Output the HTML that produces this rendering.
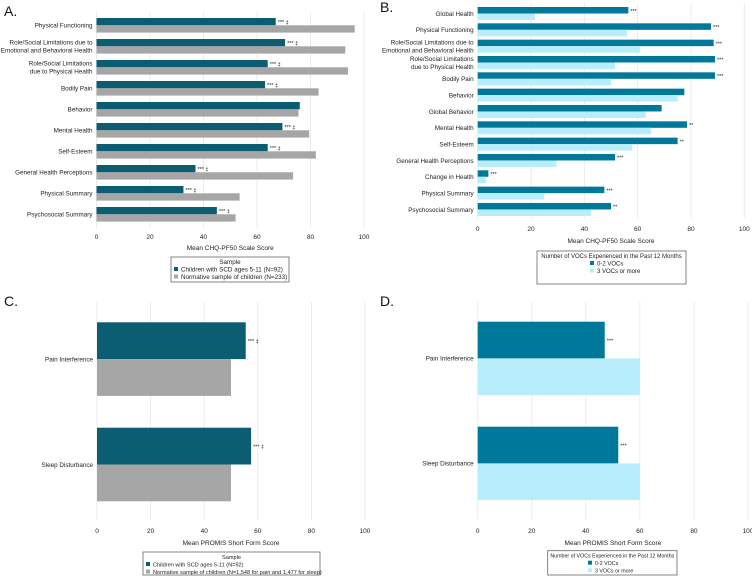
<!DOCTYPE html>
<html><head><meta charset="utf-8"><style>
html,body{margin:0;padding:0;background:#fff;}
svg{display:block;font-family:"Liberation Sans",sans-serif;}
</style></head><body>
<svg id="chart" width="752" height="578" viewBox="0 0 752 578" xmlns="http://www.w3.org/2000/svg"></svg>
<script>
// Panel A data
const catsA = ["Physical Functioning","Role/Social Limitations due to|Emotional and Behavioral Health","Role/Social Limitations|due to Physical Health","Bodily Pain","Behavior","Mental Health","Self-Esteem","General Health Perceptions","Physical Summary","Psychosocial Summary"];
const scdA = [67,70.5,64,63,76,69.5,64,37,32.5,45];
const normA = [96.5,93,94,83,75.5,79.5,82,73.5,53.5,52];
const annA = ["*** ‡","*** ‡","*** ‡","*** ‡","","*** ‡","*** ‡","*** ‡","*** ‡","*** ‡"];
// Panel B data
const catsB = ["Global Health","Physical Functioning","Role/Social Limitations due to|Emotional and Behavioral Health","Role/Social Limitations|due to Physical Health","Bodily Pain","Behavior","Global Behavior","Mental Health","Self-Esteem","General Health Perceptions","Change in Health","Physical Summary","Psychosocial Summary"];
const lowB = [56.5,87.5,88.5,89,89,77.5,69,78.5,75,51.5,4,47.5,50];
const highB = [21.5,56,61,51.5,50,75,63,65,58,29.5,3,25,42.5];
const annB = ["***","***","***","***","***","","","**","**","***","***","***","**"];
// Panel C data
const catsC = ["Pain Interference","Sleep Disturbance"];
const scdC = [55.5,57.5];
const normC = [50,50];
const annC = ["*** ‡","*** ‡"];
// Panel D data
const catsD = ["Pain Interference","Sleep Disturbance"];
const lowD = [47,52];
const highD = [60,60];
const annD = ["***","***"];
const ticks = [0,20,40,60,80,100];

const svg = document.getElementById('chart');
const NS = "http://www.w3.org/2000/svg";
function el(tag, attrs, parent){
  const e = document.createElementNS(NS, tag);
  for (const k in attrs) e.setAttribute(k, attrs[k]);
  (parent||svg).appendChild(e);
  return e;
}
function txt(x,y,s,size,anchor,parent,fill){
  const t = el('text',{x:x,y:y,'font-size':size,'text-anchor':anchor||'start',fill:fill||'#222'},parent);
  t.textContent = s;
  return t;
}

function panel(p){
  const g = el('g',{});
  
  
  const xs = v => p.x0 + (p.x1 - p.x0) * v / 100;
  ticks.forEach(t => {
    const gl = el('line',{x1:xs(t),x2:xs(t),y1:p.gTop,y2:p.gBot,stroke:'#e6e6e6','stroke-width':0.8},g);
    
    
    const tl = txt(xs(t), p.tickY, String(t), 6.5, 'middle', g);
    
    
  });
  const at = txt((p.x0+p.x1)/2, p.titleY, p.title, 6.5, 'middle', g);
  
  
  const lt = txt(p.lx, p.ly, p.letter, 14, 'start', g, '#111');
  
  
  p.cats.forEach((c,i) => {
    const top = p.top + i*p.pitch;
    const b1 = el('rect',{x:p.x0,y:top,width:xs(p.s1[i])-p.x0,height:p.bh,fill:p.c1},g);
    
    
    const b2 = el('rect',{x:p.x0,y:top+p.bh,width:xs(p.s2[i])-p.x0,height:p.bh,fill:p.c2},g);
    
    
    if (p.ann[i]) {
      const a = txt(xs(p.s1[i])+2, top+p.bh/2+2.5, p.ann[i], 5.5, 'start', g);
      
      
    }
    const lines = c.split('|');
    const cy = top + p.bh;
    lines.forEach((ln,j) => {
      const y = cy + 2.3 + (j - (lines.length-1)/2) * 8;
      const l = txt(p.x0-4, y, ln, p.fs, 'end', g);
      
      
    });
  });
  const lg = el('g',{},g);
  
  
  el('rect',{x:p.leg[0],y:p.leg[1],width:p.leg[2],height:p.leg[3],fill:'#fff',stroke:'#666','stroke-width':0.8},lg);
  txt(p.leg[0]+p.leg[2]/2, p.leg[1]+7, p.legTitle, p.lfs, 'middle', lg);
  p.legItems.forEach((s,i) => {
    const y = p.leg[1]+9+i*7.5;
    el('rect',{x:p.legX,y:y+1,width:4,height:4,fill:i?p.c2:p.c1},lg);
    txt(p.legX+7, y+5.3, s, p.lfs, 'start', lg);
  });
}

panel({name:'panel-a',letter:'A.',lx:4,ly:16,x0:96.5,x1:364,gTop:12,gBot:228,tickY:239,titleY:250,fs:6.3,lfs:6.3,
  title:'Mean CHQ-PF50 Scale Score',cats:catsA,s1:scdA,s2:normA,ann:annA,top:18,pitch:21,bh:7.3,
  c1:'#0b5e72',c2:'#a6a6a6',leg:[171,257,118,25],legTitle:'Sample',legX:174,
  legItems:['Children with SCD ages 5-11 (N=92)','Normative sample of children (N=233)']});
panel({name:'panel-b',letter:'B.',lx:380,ly:12,x0:477.7,x1:744.3,gTop:3,gBot:218,tickY:231,titleY:243,fs:6.3,lfs:6,
  title:'Mean CHQ-PF50 Scale Score',cats:catsB,s1:lowB,s2:highB,ann:annB,top:7,pitch:16.33,bh:6.5,
  c1:'#00789a',c2:'#b8eefb',leg:[537,251,149,33],legTitle:'Number of VOCs Experienced in the Past 12 Months',legX:590,
  legItems:['0-2 VOCs','3 VOCs or more']});
panel({name:'panel-c',letter:'C.',lx:4,ly:306,x0:97,x1:365,gTop:302,gBot:520,tickY:533,titleY:545,fs:6.3,lfs:5.6,
  title:'Mean PROMIS Short Form Score',cats:catsC,s1:scdC,s2:normC,ann:annC,top:322.3,pitch:105.4,bh:36.8,
  c1:'#0b5e72',c2:'#a6a6a6',leg:[143,552,177,23],legTitle:'Sample',legX:146,
  legItems:['Children with SCD ages 5-11 (N=92)','Normative sample of children (N=1,548 for pain and 1,477 for sleep)']});
panel({name:'panel-d',letter:'D.',lx:380,ly:306,x0:477.7,x1:748,gTop:302,gBot:520,tickY:533,titleY:545,fs:6.3,lfs:5.3,
  title:'Mean PROMIS Short Form Score',cats:catsD,s1:lowD,s2:highD,ann:annD,top:321.7,pitch:105,bh:36.7,
  c1:'#00789a',c2:'#b8eefb',leg:[547.7,550.7,129.3,24.3],legTitle:'Number of VOCs Experienced in the Past 12 Months',legX:588,
  legItems:['0-2 VOCs','3 VOCs or more']});
</script>
</body></html>
